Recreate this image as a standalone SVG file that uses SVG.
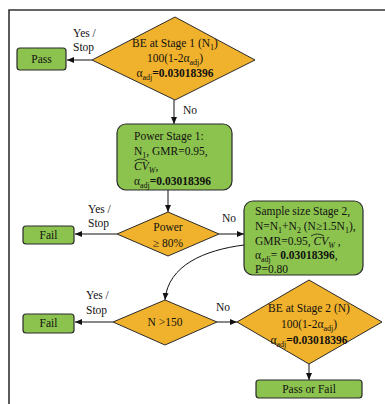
<svg xmlns="http://www.w3.org/2000/svg" width="385" height="404" viewBox="0 0 385 404">
<defs>
<marker id="ah" markerWidth="8" markerHeight="8" refX="7" refY="4" orient="auto" markerUnits="userSpaceOnUse">
<path d="M0,1 L7,4 L0,7 Z" fill="#111"/>
</marker>
<style>
.box{fill:#8cc34e;stroke:#2b2b2b;stroke-width:1.2}
.dia{fill:#f0b22c;stroke:#2b2b2b;stroke-width:1}
.t{font-family:"Liberation Serif",serif;font-size:11.5px;fill:#111}
.c{text-anchor:middle}
.b{font-weight:bold}
.ln{stroke:#111;stroke-width:1;fill:none}
.hat{stroke:#111;stroke-width:0.8;fill:none}
</style>
</defs>
<rect width="385" height="404" fill="#fff"/>
<path d="M9,404 L9,10 L385,10" fill="none" stroke="#333" stroke-width="1.6"/>

<g id="connectors">
<line class="ln" x1="92" y1="60" x2="67" y2="60" marker-end="url(#ah)"/>
<line class="ln" x1="174" y1="100" x2="174" y2="124" marker-end="url(#ah)"/>
<line class="ln" x1="168" y1="190" x2="168" y2="212" marker-end="url(#ah)"/>
<line class="ln" x1="117" y1="234" x2="75" y2="234" marker-end="url(#ah)"/>
<line class="ln" x1="219" y1="234" x2="244" y2="234" marker-end="url(#ah)"/>
<path class="ln" d="M244,245 C205,250 168,265 165,300" marker-end="url(#ah)"/>
<line class="ln" x1="113" y1="322" x2="75" y2="322" marker-end="url(#ah)"/>
<line class="ln" x1="217" y1="322" x2="237" y2="322" marker-end="url(#ah)"/>
<line class="ln" x1="309" y1="364" x2="309" y2="380" marker-end="url(#ah)"/>
<text class="t" x="73" y="37">Yes /</text>
<text class="t" x="73" y="51">Stop</text>
<text class="t" x="183" y="114">No</text>
<text class="t" x="88" y="213">Yes /</text>
<text class="t" x="88" y="227">Stop</text>
<text class="t" x="222" y="222">No</text>
<text class="t" x="86" y="299">Yes /</text>
<text class="t" x="86" y="314">Stop</text>
<text class="t" x="216" y="311">No</text>
</g>

<g id="be1">
<polygon class="dia" points="175,17 255,60 175,100 92,60"/>
<text class="t c" x="175" y="47">BE at Stage 1 (N<tspan font-size="8" dy="3">1</tspan><tspan dy="-3">)</tspan></text>
<text class="t c" x="175" y="62">100(1-2α<tspan font-size="8" dy="3">adj</tspan><tspan dy="-3">)</tspan></text>
<text class="t c" x="175" y="77">α<tspan font-size="8" dy="3">adj</tspan><tspan dy="-3" class="b">=0.03018396</tspan></text>
</g>

<g id="pass">
<rect class="box" x="17" y="48" width="49" height="22" rx="3"/>
<text class="t c" x="41.5" y="63">Pass</text>
</g>

<g id="power1">
<rect class="box" x="117" y="124" width="115" height="66" rx="9"/>
<text class="t" x="134" y="140">Power Stage 1:</text>
<text class="t" x="134" y="155">N<tspan font-size="8" dy="3">1</tspan><tspan dy="-3">, GMR=0.95,</tspan></text>
<text class="t" x="134" y="170"><tspan font-style="italic">CV</tspan><tspan font-style="italic" font-size="8" dy="3">W</tspan><tspan dy="-3">,</tspan></text>
<path class="hat" d="M134.5,161 Q141,157 147.5,161"/>
<text class="t" x="134" y="185">α<tspan font-size="8" dy="3">adj</tspan><tspan dy="-3" class="b">=0.03018396</tspan></text>
</g>

<g id="powercheck">
<polygon class="dia" points="168,212 219,234 168,256 117,234"/>
<text class="t c" x="168" y="231">Power</text>
<text class="t c" x="168" y="247">≥ 80%</text>
</g>

<g id="fail1">
<rect class="box" x="23" y="226" width="51" height="18" rx="3"/>
<text class="t c" x="48.5" y="239">Fail</text>
</g>

<g id="sample2">
<rect class="box" x="244" y="201" width="119" height="74" rx="9"/>
<text class="t" x="255" y="215">Sample size Stage 2,</text>
<text class="t" x="255" y="230">N=N<tspan font-size="8" dy="3">1</tspan><tspan dy="-3">+N</tspan><tspan font-size="8" dy="3">2</tspan><tspan dy="-3"> (N≥1.5N</tspan><tspan font-size="8" dy="3">1</tspan><tspan dy="-3">),</tspan></text>
<text class="t" x="255" y="245">GMR=0.95, <tspan font-style="italic">CV</tspan><tspan font-style="italic" font-size="8" dy="3">W</tspan><tspan dy="-3"> ,</tspan></text>
<path class="hat" d="M311,236 Q317.5,232 324,236"/>
<text class="t" x="255" y="259">α<tspan font-size="8" dy="3">adj</tspan><tspan dy="-3">= </tspan><tspan class="b">0.03018396</tspan>,</text>
<text class="t" x="255" y="273">P=0.80</text>
</g>

<g id="ncheck">
<polygon class="dia" points="165,300 217,322 165,345 113,322"/>
<text class="t c" x="165" y="326">N &gt;150</text>
</g>

<g id="fail2">
<rect class="box" x="23" y="314" width="51" height="19" rx="3"/>
<text class="t c" x="48.5" y="327">Fail</text>
</g>

<g id="be2">
<polygon class="dia" points="309,280 382,322 309,364 237,322"/>
<text class="t c" x="309" y="312">BE at Stage 2 (N)</text>
<text class="t c" x="309" y="328">100(1-2α<tspan font-size="8" dy="3">adj</tspan><tspan dy="-3">)</tspan></text>
<text class="t c" x="309" y="344">α<tspan font-size="8" dy="3">adj</tspan><tspan dy="-3" class="b">=0.03018396</tspan></text>
</g>

<g id="passfail">
<rect class="box" x="256" y="380" width="106" height="18" rx="3"/>
<text class="t c" x="309" y="393">Pass or Fail</text>
</g>
</svg>
